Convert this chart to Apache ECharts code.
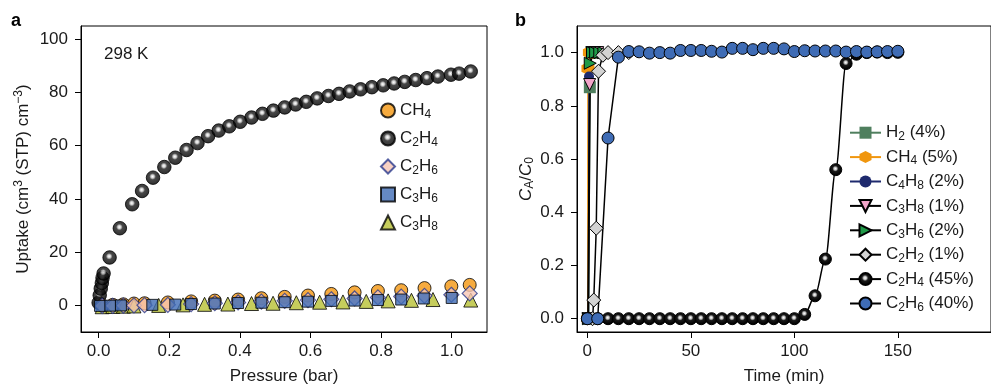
<!DOCTYPE html>
<html><head><meta charset="utf-8">
<script src="https://cdn.jsdelivr.net/npm/echarts@6.0.0/dist/echarts.min.js"></script>
<style>html,body{margin:0;padding:0;background:#fff}#c{width:991px;height:390px}</style>
</head><body><div id="c"></div>
<script>
// ---------------- data ----------------
const leftXTicks = [0, 0.2, 0.4, 0.6, 0.8, 1.0];
const leftYTicks = [0, 20, 40, 60, 80, 100];
const rightXTicks = [0, 50, 100, 150];
const rightYTicks = [0, 0.2, 0.4, 0.6, 0.8, 1.0];

// panel a: isotherms at 298 K
const isoC2H4_p = [0.000, 0.003, 0.006, 0.009, 0.011, 0.014, 0.031, 0.060, 0.095, 0.123, 0.154, 0.186, 0.217, 0.249, 0.280, 0.310, 0.340, 0.370, 0.401, 0.433, 0.464, 0.495, 0.527, 0.558, 0.588, 0.619, 0.651, 0.681, 0.711, 0.742, 0.774, 0.806, 0.837, 0.867, 0.898, 0.930, 0.961, 0.998, 1.021, 1.054];
const isoC2H4_u = [1.0, 3.8, 6.3, 8.4, 10.3, 12.0, 18.0, 29.0, 38.0, 43.0, 48.0, 52.0, 55.5, 58.4, 61.0, 63.6, 65.7, 67.3, 69.0, 70.6, 72.0, 73.2, 74.4, 75.5, 76.5, 77.8, 78.7, 79.5, 80.4, 81.2, 82.0, 82.7, 83.4, 84.0, 84.7, 85.4, 86.0, 86.7, 87.1, 87.9];
const isoCH4_p = [0.010, 0.040, 0.070, 0.100, 0.130, 0.196, 0.262, 0.329, 0.395, 0.461, 0.527, 0.593, 0.659, 0.725, 0.791, 0.857, 0.923, 0.999, 1.051];
const isoCH4_u = [0.0, 0.2, 0.4, 0.7, 0.8, 1.1, 1.5, 1.8, 2.2, 2.7, 3.2, 3.7, 4.3, 4.9, 5.4, 5.7, 6.5, 7.2, 7.7];
const isoC2H6_p = [0.010, 0.040, 0.070, 0.100, 0.130, 0.196, 0.262, 0.329, 0.395, 0.461, 0.527, 0.593, 0.659, 0.725, 0.791, 0.857, 0.923, 0.999, 1.051];
const isoC2H6_u = [-0.2, -0.2, -0.1, 0.0, 0.1, 0.2, 0.5, 0.8, 1.1, 1.4, 1.7, 2.0, 2.3, 2.6, 3.0, 3.3, 3.6, 4.0, 4.5];
const isoC3H6_p = [0.004, 0.033, 0.063, 0.152, 0.217, 0.262, 0.329, 0.395, 0.461, 0.527, 0.593, 0.659, 0.725, 0.791, 0.857, 0.921, 1.000];
const isoC3H6_u = [-0.2, -0.1, 0.0, 0.2, 0.3, 0.5, 0.7, 0.9, 1.0, 1.2, 1.4, 1.7, 1.8, 2.0, 2.2, 2.6, 2.8];
const isoC3H8_p = [0.010, 0.040, 0.070, 0.100, 0.170, 0.239, 0.300, 0.366, 0.433, 0.494, 0.560, 0.626, 0.692, 0.758, 0.820, 0.886, 0.947, 1.054];
const isoC3H8_u = [-0.5, -0.4, -0.3, -0.2, 0.0, 0.2, 0.4, 0.5, 0.7, 0.8, 1.0, 1.2, 1.3, 1.5, 1.7, 1.9, 2.2, 2.0];

// panel b: breakthrough curves
const brkTime = [0, 5, 10, 15, 20, 25, 30, 35, 40, 45, 50, 55, 60, 65, 70, 75, 80, 85, 90, 95, 100, 105, 110, 115, 120, 125, 130, 135, 140, 145, 150];
const brkC2H4 = [0, 0, 0, 0, 0, 0, 0, 0, 0, 0, 0, 0, 0, 0, 0, 0, 0, 0, 0, 0, 0, 0.016, 0.086, 0.224, 0.560, 0.959, 0.994, 1.000, 1.002, 1.000, 1.001];
const brkC2H6 = [0, 0, 0.679, 0.983, 1.004, 1.003, 0.998, 1.000, 0.998, 1.008, 1.008, 1.008, 1.005, 1.002, 1.016, 1.016, 1.011, 1.016, 1.016, 1.014, 1.004, 1.007, 1.006, 1.006, 1.006, 1.002, 1.004, 1.002, 1.003, 1.004, 1.005];
const brkH2_t = [0.6, 1.2, 2.0, 3.0, 4.0, 5.0];
const brkH2_v = [0, 0.87, 1.0, 1.0, 1.0, 1.0];
const brkCH4_t = [0.2, 0.3, 1.0, 2.0, 3.0];
const brkCH4_v = [0, 0.94, 1.0, 1.0, 1.0];
const brkC4H8_t = [0.5, 0.8, 2.0, 3.0, 4.0];
const brkC4H8_v = [0, 0.91, 1.0, 1.0, 1.0];
const brkC3H8_t = [0.3, 1.1, 2.2, 3.5, 5.0];
const brkC3H8_v = [0, 0.88, 1.0, 1.0, 1.0];
const brkC3H6_t = [0.5, 1.4, 2.5, 4.0, 6.0, 8.0];
const brkC3H6_v = [0, 0.96, 1.0, 1.0, 1.0, 1.0];
const brkC2H2_t = [2.5, 3.1, 4.3, 5.4, 7.5, 10, 15, 20];
const brkC2H2_v = [0, 0.07, 0.34, 0.93, 0.99, 1.0, 1.0, 1.0];

// ---------------- chart ----------------
const FONT = '"Liberation Sans", Arial, Helvetica, sans-serif';
const TXT = '#1a1a1a';
const rich = {
  n: {fontSize: 17, lineHeight: 20, fontFamily: FONT, color: TXT},
  i: {fontSize: 17, lineHeight: 20, fontFamily: FONT, color: TXT, fontStyle: 'italic'},
  s: {fontSize: 12, lineHeight: 10, verticalAlign: 'bottom', fontFamily: FONT, color: TXT},
  p: {fontSize: 12, lineHeight: 10, verticalAlign: 'top', fontFamily: FONT, color: TXT}
};
function chem(str) {
  const sp = str.indexOf(' ');
  const f = sp < 0 ? str : str.slice(0, sp);
  const rest = sp < 0 ? '' : str.slice(sp);
  let out = '';
  for (const ch of f) out += /\d/.test(ch) ? '{s|' + ch + '}' : '{n|' + ch + '}';
  if (rest) out += '{n|' + rest + '}';
  return out;
}
const zip = (a, b) => a.map((v, k) => [v, b[k]]);
const sphere = {type: 'radial', x: 0.47, y: 0.42, r: 0.5, colorStops: [
  {offset: 0, color: '#ffffff'}, {offset: 0.22, color: '#c4c4c4'}, {offset: 0.45, color: '#1a1a1a'}, {offset: 1, color: '#000'}]};
const HEX = 'path://M0,-10L8.66,-5L8.66,5L0,10L-8.66,5L-8.66,-5Z';
const TRI_DOWN = 'path://M-10,-9L10,-9L0,9Z';
const TRI_RIGHT = 'path://M-9,-10L9,0L-9,10Z';

function axisBase(ticks, fmt, margin) {
  return {
    type: 'value',
    axisLine: {show: true, onZero: false, lineStyle: {color: '#000', width: 1}},
    axisTick: {show: true, inside: false, length: 6, lineStyle: {color: '#000', width: 1}, customValues: ticks},
    axisLabel: {fontSize: 17, fontFamily: FONT, color: TXT, margin: margin, customValues: ticks, formatter: fmt},
    splitLine: {show: false},
    nameLocation: 'middle',
    nameTextStyle: {fontSize: 17, fontFamily: FONT, color: TXT, rich: rich}
  };
}

const chart = echarts.init(document.getElementById('c'), null, {renderer: 'canvas'});

const leftScatter = (name, p, u, opt) => Object.assign({
  type: 'scatter', name: name, xAxisIndex: 0, yAxisIndex: 0, data: zip(p, u), clip: false
}, opt);

const rightLine = (name, t, v, color, symbol, size, fill, border, extra) => Object.assign({
  type: 'line', name: name, xAxisIndex: 1, yAxisIndex: 1, data: zip(t, v),
  symbol: symbol, symbolSize: size, showAllSymbol: true,
  lineStyle: {color: color, width: 1.5},
  itemStyle: {color: fill, borderColor: border, borderWidth: border ? 1 : 0, opacity: 1},
  emphasis: {disabled: true}
}, extra || {});

chart.setOption({
  animation: false,
  backgroundColor: '#fff',
  grid: [
    {left: 81, top: 26, width: 406, height: 310, show: true, borderColor: '#000', borderWidth: 1},
    {left: 577, top: 26, width: 424, height: 310, show: true, borderColor: '#000', borderWidth: 1}
  ],
  xAxis: [
    Object.assign(axisBase(leftXTicks, v => v.toFixed(1), 11), {gridIndex: 0, min: -0.05, max: 1.1, name: 'Pressure (bar)', nameGap: 36}),
    Object.assign(axisBase(rightXTicks, v => String(v), 11), {gridIndex: 1, min: -5, max: 195, name: 'Time (min)', nameGap: 36})
  ],
  yAxis: [
    Object.assign(axisBase(leftYTicks, v => String(v), 13), {gridIndex: 0, min: -10, max: 105,
      name: '{n|Uptake (cm}{p|3}{n| (STP) cm}{p|\u22123}{n|)}', nameGap: 48}),
    Object.assign(axisBase(rightYTicks, v => v.toFixed(1), 13), {gridIndex: 1, min: -0.05, max: 1.1,
      name: '{i|C}{s|A}{n|/}{i|C}{s|0}', nameGap: 41})
  ],
  legend: [
    {orient: 'vertical', left: 375, top: 97, itemWidth: 14, itemHeight: 14, itemGap: 9.5, selectedMode: false,
     data: ['CH4', 'C2H4', 'C2H6', 'C3H6', 'C3H8'], formatter: chem, textStyle: {rich: rich}},
    {orient: 'vertical', left: 844, top: 119.2, itemWidth: 31, itemHeight: 15, itemGap: 5.9, selectedMode: false,
     data: ['H2 (4%)', 'CH4 (5%)', 'C4H8 (2%)', 'C3H8 (1%)', 'C3H6 (2%)', 'C2H2 (1%)', 'C2H4 (45%)', 'C2H6 (40%)'],
     formatter: chem, textStyle: {rich: rich}}
  ],
  graphic: [
    {type: 'text', left: 11, top: 12, style: {text: 'a', font: 'bold 18px ' + FONT, fill: '#000'}},
    {type: 'text', left: 515, top: 12, style: {text: 'b', font: 'bold 18px ' + FONT, fill: '#000'}},
    {type: 'text', left: 104, top: 46, style: {text: '298 K', font: '17px ' + FONT, fill: TXT}}
  ],
  series: [
    leftScatter('C2H4', isoC2H4_p, isoC2H4_u, {symbol: 'circle', symbolSize: 13.5, itemStyle: {color: sphere, borderColor: '#000', borderWidth: 1}}),
    leftScatter('CH4', isoCH4_p, isoCH4_u, {symbol: 'circle', symbolSize: 13, itemStyle: {color: '#f4960f', borderColor: '#000', borderWidth: 1}}),
    leftScatter('C3H8', isoC3H8_p, isoC3H8_u, {symbol: 'triangle', symbolSize: 14, itemStyle: {color: '#b8c133', borderColor: '#000', borderWidth: 1}}),
    leftScatter('C2H6', isoC2H6_p, isoC2H6_u, {symbol: 'diamond', symbolSize: 15, itemStyle: {color: '#f6c6b4', borderColor: '#2b3a8c', borderWidth: 1.2}}),
    leftScatter('C3H6', isoC3H6_p, isoC3H6_u, {symbol: 'rect', symbolSize: 11, itemStyle: {color: '#3f6cb5', borderColor: '#000', borderWidth: 1}}),

    rightLine('H2 (4%)', brkH2_t, brkH2_v, '#4f7f5e', 'rect', 12, '#4f7f5e', null),
    rightLine('CH4 (5%)', brkCH4_t, brkCH4_v, '#f0960e', HEX, 13, '#f0960e', null),
    rightLine('C4H8 (2%)', brkC4H8_t, brkC4H8_v, '#1e2a6e', 'circle', 10, '#1e2a6e', null),
    rightLine('C3H8 (1%)', brkC3H8_t, brkC3H8_v, '#000', TRI_DOWN, 12, '#f2a5c9', '#000'),
    rightLine('C3H6 (2%)', brkC3H6_t, brkC3H6_v, '#000', TRI_RIGHT, 12, '#1f9a48', '#000'),
    rightLine('C2H2 (1%)', brkC2H2_t, brkC2H2_v, '#000', 'diamond', 14, '#d3d3d3', '#000'),
    rightLine('C2H4 (45%)', brkTime, brkC2H4, '#000', 'circle', 12, sphere, '#000', {smooth: 0.3, smoothMonotone: 'x'}),
    rightLine('C2H6 (40%)', brkTime, brkC2H6, '#000', 'circle', 12, '#3f6cb5', '#000')
  ]
});
</script></body></html>
